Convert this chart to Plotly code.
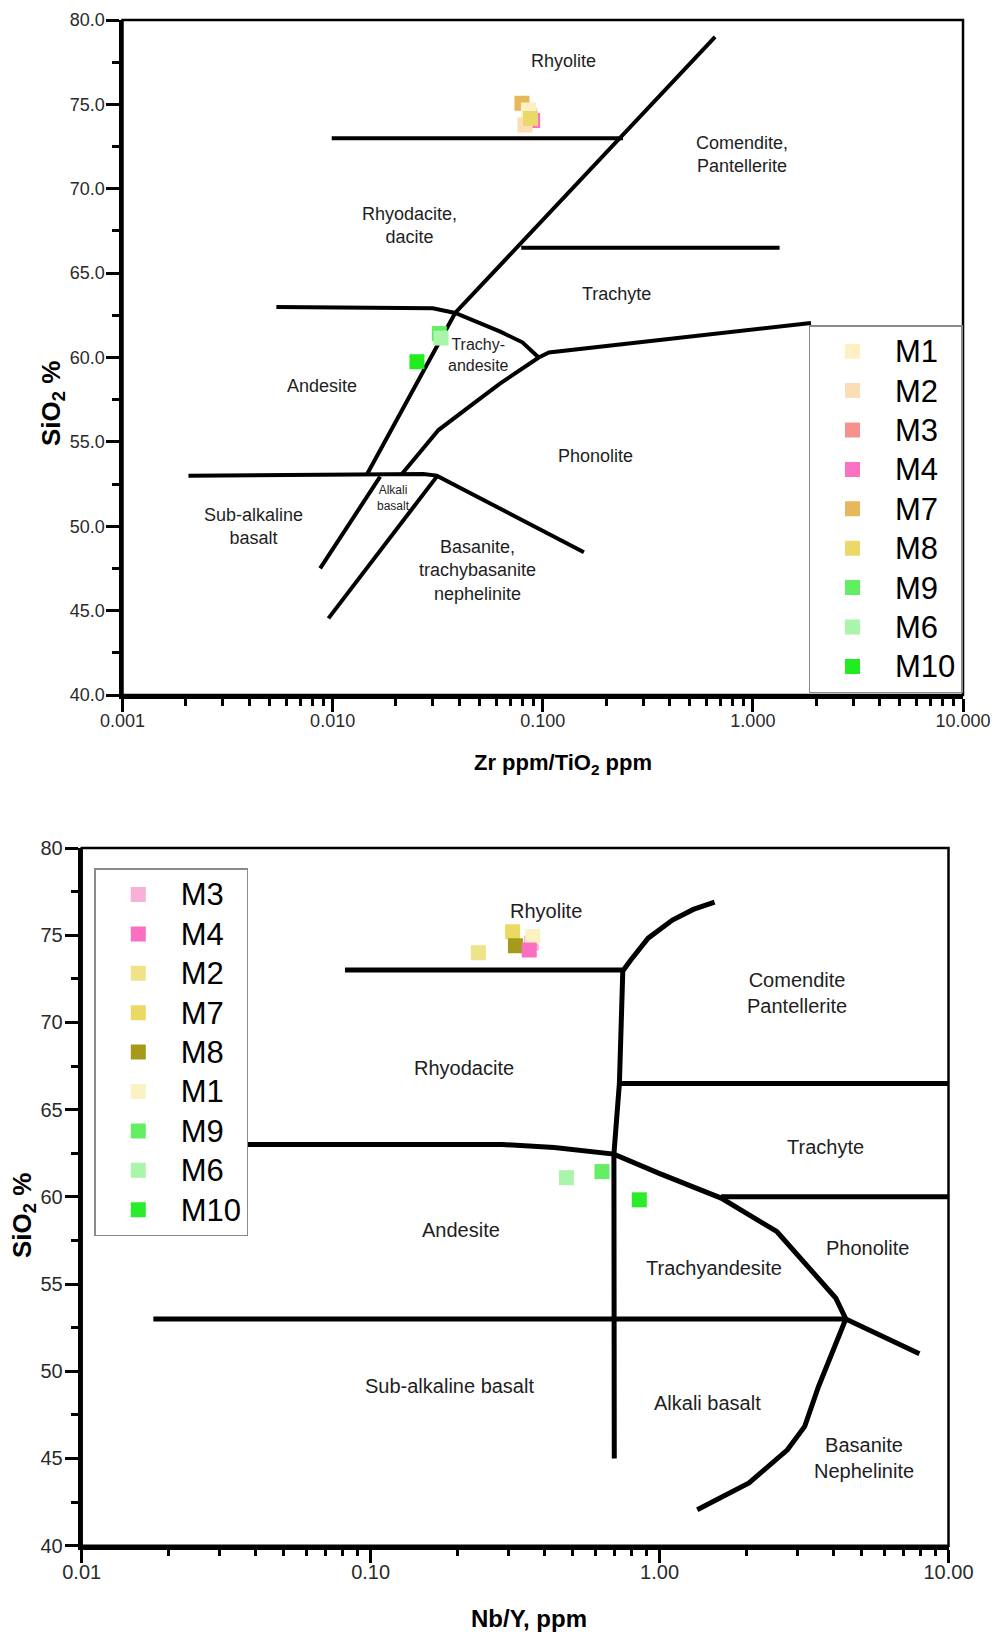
import math
import plotly.graph_objects as go

FONT = "Liberation Sans, Arial, Helvetica, sans-serif"
INK = "#1e1e1e"
W, H = 997, 1634

# ---------------- Upper panel: Zr/TiO2 vs SiO2 ----------------
zr_samples = ["M3", "M4", "M2", "M7", "M1", "M8", "M9", "M6", "M10"]
zr_tio2 = [0.0860, 0.0895, 0.0823, 0.0796, 0.0855, 0.0874, 0.0322, 0.0328, 0.0252]
zr_sio2 = [74.35, 74.05, 73.78, 75.06, 74.67, 74.17, 61.42, 61.15, 59.75]
zr_legend_order = ["M1", "M2", "M3", "M4", "M7", "M8", "M9", "M6", "M10"]
zr_colors = {
    "M1": "#FDF1C3", "M2": "#FBDDB6", "M3": "#F6928E", "M4": "#FB72C2",
    "M7": "#E7B75C", "M8": "#EBD86A", "M9": "#62EE62", "M6": "#A9F5A9",
    "M10": "#20EC20",
}

# field boundaries (x = Zr/TiO2, y = SiO2)
zr_rhyolite_base = ([0.0099, 0.241], [73.0, 73.0])
zr_alkaline_divide = ([0.0146, 0.0255, 0.0383, 0.661], [53.1, 58.67, 62.64, 79.0])
zr_trachyte_top = ([0.079, 1.34], [66.5, 66.5])
zr_andesite_top = ([0.0054, 0.030, 0.0383, 0.0628, 0.080, 0.0957],
                   [63.0, 62.92, 62.64, 61.53, 60.9, 60.0])
zr_trachyte_base = ([0.0957, 0.107, 1.89], [60.0, 60.3, 62.04])
zr_phonolite_base = ([0.02136, 0.0319, 0.0483, 0.0628, 0.0957],
                     [53.1, 55.7, 57.4, 58.47, 60.0])
zr_basalt_top = ([0.00206, 0.027, 0.0313, 0.157], [53.0, 53.1, 53.0, 48.46])
zr_subalkaline_divide = ([0.00872, 0.01683], [47.5, 52.94])
zr_basanite_divide = ([0.00955, 0.0313], [44.54, 52.94])
zr_boundaries = [zr_rhyolite_base, zr_alkaline_divide, zr_trachyte_top,
                 zr_andesite_top, zr_trachyte_base, zr_phonolite_base,
                 zr_basalt_top, zr_subalkaline_divide, zr_basanite_divide]

zr_fields = [
    ("Rhyolite", 0.126, 77.6, 18),
    ("Comendite,<br>Pantellerite", 0.889, 72.05, 18),
    ("Rhyodacite,<br>dacite", 0.0232, 67.85, 18),
    ("Trachyte", 0.2254, 63.78, 18),
    ("Trachy-<br>andesite", 0.0494, 60.13, 16),
    ("Andesite", 0.0089, 58.34, 18),
    ("Phonolite", 0.1776, 54.15, 18),
    ("Alkali<br>basalt", 0.0194, 51.67, 12),
    ("Sub-alkaline<br>basalt", 0.00419, 50.0, 18),
    ("Basanite,<br>trachybasanite<br>nephelinite", 0.0488, 47.35, 18),
]

# ---------------- Lower panel: Nb/Y vs SiO2 ----------------
nb_samples = ["M3", "M2", "M7", "M1", "M8", "M4", "M9", "M6", "M10"]
nb_y_ratio = [0.360, 0.236, 0.310, 0.364, 0.317, 0.354, 0.632, 0.476, 0.851]
nb_sio2 = [74.55, 74.0, 75.2, 74.92, 74.4, 74.15, 61.45, 61.1, 59.83]
nb_legend_order = ["M3", "M4", "M2", "M7", "M8", "M1", "M9", "M6", "M10"]
nb_colors = {
    "M3": "#F9B0D6", "M4": "#FA6FC0", "M2": "#EFE38A", "M7": "#EAD963",
    "M8": "#A59A1C", "M1": "#FBF2C4", "M9": "#63EE63", "M6": "#A9F5A9",
    "M10": "#2BEC2B",
}

# field boundaries (x = Nb/Y, y = SiO2)
nb_rhyolite_base = ([0.0815, 0.746], [73.0, 73.0])
nb_alkaline_divide = ([1.55, 1.309, 1.108, 0.913, 0.795, 0.746, 0.726, 0.695, 0.697],
                      [76.9, 76.48, 75.87, 74.83, 73.58, 72.95, 66.5, 62.45, 45.0])
nb_trachyte_top = ([0.726, 10.0], [66.5, 66.5])
nb_andesite_top = ([0.0355, 0.285, 0.432, 0.570, 0.695, 0.992, 1.633, 2.55, 3.45, 4.07, 4.41],
                   [63.0, 63.0, 62.83, 62.65, 62.45, 61.36, 59.93, 58.0, 55.6, 54.2, 53.0])
nb_trachyte_base = ([1.633, 10.0], [60.0, 60.0])
nb_basalt_top = ([0.0177, 4.41], [53.0, 53.0])
nb_phonolite_tail = ([4.41, 7.93], [53.0, 51.0])
nb_basanite_divide = ([4.41, 3.55, 3.18, 2.77, 2.04, 1.35],
                      [53.0, 49.13, 46.84, 45.5, 43.6, 42.06])
nb_boundaries = [nb_rhyolite_base, nb_alkaline_divide, nb_trachyte_top,
                 nb_andesite_top, nb_trachyte_base, nb_basalt_top,
                 nb_phonolite_tail, nb_basanite_divide]

nb_fields = [
    ("Rhyolite", 0.404, 76.36),
    ("Comendite<br>Pantellerite", 2.99, 71.7),
    ("Rhyodacite", 0.21, 67.4),
    ("Trachyte", 3.74, 62.87),
    ("Andesite", 0.205, 58.1),
    ("Phonolite", 5.25, 57.08),
    ("Trachyandesite", 1.537, 55.94),
    ("Sub-alkaline basalt", 0.188, 49.13),
    ("Alkali basalt", 1.46, 48.17),
    ("Basanite<br>Nephelinite", 5.08, 45.0),
]

sio2_ticks = [40, 45, 50, 55, 60, 65, 70, 75, 80]
sio2_minor = [42.5, 47.5, 52.5, 57.5, 62.5, 67.5, 72.5, 77.5]
zr_ticks = [0.001, 0.01, 0.1, 1, 10]
zr_ticktext = ["0.001", "0.010", "0.100", "1.000", "10.000"]
nb_ticks = [0.01, 0.1, 1, 10]
nb_ticktext = ["0.01", "0.10", "1.00", "10.00"]


def log_minor(lo_exp, hi_exp):
    return [k * 10 ** e for e in range(lo_exp, hi_exp) for k in range(2, 10)]


def legend_label(name):
    return f"<span style='font-size:31px'>{name}</span>"


fig = go.Figure()

for bx, by in zr_boundaries:
    fig.add_trace(go.Scatter(x=bx, y=by, mode="lines", xaxis="x", yaxis="y",
                             line=dict(color="black", width=4),
                             showlegend=False, hoverinfo="skip"))
for bx, by in nb_boundaries:
    fig.add_trace(go.Scatter(x=bx, y=by, mode="lines", xaxis="x2", yaxis="y2",
                             line=dict(color="black", width=5),
                             showlegend=False, hoverinfo="skip"))

for name, xv, yv in zip(zr_samples, zr_tio2, zr_sio2):
    fig.add_trace(go.Scatter(
        x=[xv], y=[yv], mode="markers", name=legend_label(name), xaxis="x", yaxis="y",
        marker=dict(symbol="square", size=15, color=zr_colors[name], line=dict(width=0)),
        legend="legend", legendrank=zr_legend_order.index(name) + 1,
    ))
for name, xv, yv in zip(nb_samples, nb_y_ratio, nb_sio2):
    fig.add_trace(go.Scatter(
        x=[xv], y=[yv], mode="markers", name=legend_label(name), xaxis="x2", yaxis="y2",
        marker=dict(symbol="square", size=15, color=nb_colors[name], line=dict(width=0)),
        legend="legend2", legendrank=nb_legend_order.index(name) + 1,
    ))

annotations = []
for text, xv, yv, fs in zr_fields:
    annotations.append(dict(text=text, x=math.log10(xv), y=yv, xref="x", yref="y",
                            showarrow=False, font=dict(family=FONT, size=fs, color=INK)))
for text, xv, yv in nb_fields:
    annotations.append(dict(text=text, x=math.log10(xv), y=yv, xref="x2", yref="y2",
                            showarrow=False, font=dict(family=FONT, size=20, color=INK)))

centered = dict(xref="paper", yref="paper", showarrow=False, xanchor="center", yanchor="middle")
annotations += [
    dict(text="<b>Zr ppm/TiO<sub>2</sub> ppm</b>", x=562.6 / W, y=1 - 763.6 / H,
         font=dict(family=FONT, size=22, color="black"), **centered),
    dict(text="<b>SiO<sub>2</sub> %</b>", x=52 / W, y=1 - 404 / H, textangle=-90,
         font=dict(family=FONT, size=26, color="black"), **centered),
    dict(text="<b>Nb/Y, ppm</b>", x=529 / W, y=1 - 1618 / H,
         font=dict(family=FONT, size=24, color="black"), **centered),
    dict(text="<b>SiO<sub>2</sub> %</b>", x=23 / W, y=1 - 1216 / H, textangle=-90,
         font=dict(family=FONT, size=26, color="black"), **centered),
]


def axis_common(size):
    return dict(
        showline=True, linecolor="black", linewidth=4, mirror=False,
        ticks="outside", ticklen=13, tickwidth=2.5, tickcolor="black",
        showgrid=False, zeroline=False, fixedrange=True, automargin=False,
        tickfont=dict(family=FONT, size=size, color="#2a2a2a"),
    )


frame = dict(type="rect", x0=0, x1=1, y0=0, y1=1, line=dict(color="black", width=2.5),
             fillcolor="rgba(0,0,0,0)", layer="above")

legend_style = dict(
    bgcolor="white", bordercolor="#8a8a8a", borderwidth=1.5,
    font=dict(family=FONT, size=28, color="black"),
    itemwidth=75, xanchor="left", yanchor="top", tracegroupgap=0,
)

fig.update_layout(
    width=W, height=H, margin=dict(l=0, r=0, t=0, b=0, pad=0, autoexpand=False),
    paper_bgcolor="white", plot_bgcolor="white", hovermode=False,
    xaxis=dict(type="log", range=[-3, 1], domain=[122.5 / W, 963 / W], anchor="y",
               tickmode="array", tickvals=zr_ticks, ticktext=zr_ticktext, ticklabelstandoff=-7,
               minor=dict(tickmode="array", tickvals=log_minor(-3, 1), ticks="outside",
                          ticklen=6.5, tickwidth=2.5, tickcolor="black", showgrid=False),
               **axis_common(18)),
    yaxis=dict(range=[40, 80], domain=[1 - 695 / H, 1 - 20 / H], anchor="x",
               tickmode="array", tickvals=sio2_ticks, ticktext=[f"{v:.1f}" for v in sio2_ticks],
               ticklabelstandoff=-3,
               minor=dict(tickmode="array", tickvals=sio2_minor, ticks="outside",
                          ticklen=6.5, tickwidth=2.5, tickcolor="black", showgrid=False),
               **axis_common(18)),
    xaxis2=dict(type="log", range=[-2, 1], domain=[81.7 / W, 948.5 / W], anchor="y2",
                tickmode="array", tickvals=nb_ticks, ticktext=nb_ticktext, ticklabelstandoff=-8,
                minor=dict(tickmode="array", tickvals=log_minor(-2, 1), ticks="outside",
                           ticklen=6.5, tickwidth=2.5, tickcolor="black", showgrid=False),
                **axis_common(20)),
    yaxis2=dict(range=[40, 80], domain=[1 - 1545.7 / H, 1 - 848 / H], anchor="x2",
                tickmode="array", tickvals=sio2_ticks, ticktext=[str(v) for v in sio2_ticks],
                ticklabelstandoff=-2,
                minor=dict(tickmode="array", tickvals=sio2_minor, ticks="outside",
                           ticklen=6.5, tickwidth=2.5, tickcolor="black", showgrid=False),
                **axis_common(20)),
    legend=dict(x=808.5 / W, y=1 - 325 / H, **legend_style),
    legend2=dict(x=94.3 / W, y=1 - 868.3 / H, **legend_style),
    annotations=annotations,
    shapes=[dict(frame, xref="x domain", yref="y domain"),
            dict(frame, xref="x2 domain", yref="y2 domain")],
)

fig.write_html("out.html")
